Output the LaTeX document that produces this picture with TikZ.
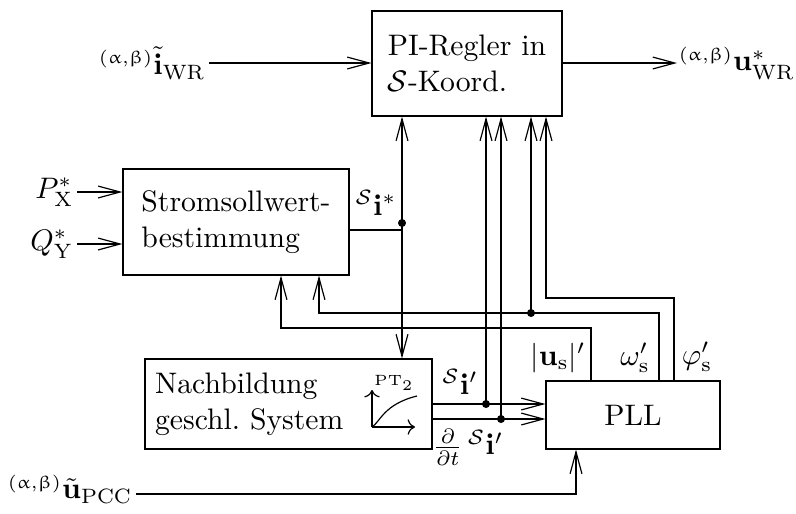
\documentclass[tikz,border=0pt]{standalone}
\usepackage{amsmath}
\usepackage[Euler]{upgreek}
\usetikzlibrary{arrows.meta}

\newcommand{\abkoord}{{}^{\mbox{\fontsize{6}{7}\selectfont$(\upalpha{,}\upbeta)$}}}

\begin{document}
\begin{tikzpicture}[x=0.337pt,y=-0.337pt,
    block/.style={draw,rectangle,inner sep=2pt,align=left},
    pfeil/.style={-{Straight Barb[length=7.4pt,width=4pt]}},
    punkt/.style={circle,fill,inner sep=0pt,minimum size=2.7pt}]

    \useasboundingbox (0,0) rectangle (796,513);

    % Blocks
    \node[block,minimum width=64pt,minimum height=35.4pt] (pi) at (467,63.5)
        {PI-Regler in\\$\mathcal{S}$-Koord.};
    \node[block,minimum width=76.2pt,minimum height=35.7pt] (strom) at (236,222)
        {Stromsollwert-\\bestimmung};
    \node[block,inner xsep=3.4pt,text width=89.9pt,minimum height=30.3pt] (nachb) at (288.5,404)
        {Nachbildung\\geschl.\ System};
    \node[block,minimum width=58.6pt,minimum height=22.9pt,align=center] (pll) at (633,415) {PLL};

    % PT2 icon
    \coordinate (pto) at (372,427);
    \draw[->] (pto) -- (372,390);
    \draw[->] (pto) -- (415,427);
    \draw (pto) .. controls (380,422) and (384,404) .. (417,396);
    \node[font=\tiny] at (394,383) {PT$_2$};

    % Inputs and outputs
    \node[anchor=east,inner sep=1pt] (iwr) at (209,63) {$\abkoord\tilde{\mathbf{i}}_{\mathrm{WR}}$};
    \draw[pfeil] (iwr.east) -- (iwr.east -| pi.west);
    \node[anchor=west,inner sep=0.5pt] (uwr) at (677,63) {$\abkoord\mathbf{u}^*_{\mathrm{WR}}$};
    \draw[pfeil] (pi.east |- uwr.west) -- (uwr.west);

    \node[anchor=east,inner sep=1pt] (px) at (77,192) {$P^*_{\mathrm{X}}$};
    \draw[pfeil] (px.east) -- (px.east -| strom.west);
    \node[anchor=east,inner sep=1pt] (qy) at (77,244) {$Q^*_{\mathrm{Y}}$};
    \draw[pfeil] (qy.east) -- (qy.east -| strom.west);

    \node[anchor=east,inner sep=1pt] (upcc) at (136,489) {$\abkoord\tilde{\mathbf{u}}_{\mathrm{PCC}}$};
    \draw[pfeil] (upcc.east |- 0,494) -| (pll.south -| 576,0);

    % Stromsollwert
    \coordinate (dsi) at (402,223);
    \draw (strom.east |- 0,230) -| (dsi);
    \draw[pfeil] (dsi) -- (dsi |- pi.south);
    \draw[pfeil] (dsi) -- (dsi |- nachb.north);
    \node[punkt] at (dsi) {};
    \node at (376,203) {${}^{\mathcal{S}}\mathbf{i}^*$};

    % Nachbildung -> PLL
    \coordinate (di) at (486,404);
    \coordinate (ddi) at (501,419);
    \draw[pfeil] (nachb.east |- di) -- (pll.west |- di);
    \draw[pfeil] (nachb.east |- ddi) -- (pll.west |- ddi);
    \draw[pfeil] (di) -- (di |- pi.south);
    \draw[pfeil] (ddi) -- (ddi |- pi.south);
    \node[punkt] at (di) {};
    \node[punkt] at (ddi) {};
    \node at (460,382) {${}^{\mathcal{S}}\mathbf{i}'$};
    \node at (468,447) {$\frac{\partial}{\partial t}\,{}^{\mathcal{S}}\mathbf{i}'$};

    % PLL outputs
    \draw[pfeil] (pll.north -| 591,0) |- (281,328) -- (281,328 |- strom.south);
    \coordinate (dw) at (531,313);
    \draw[pfeil] (pll.north -| 659,0) |- (319,313) -- (319,313 |- strom.south);
    \draw[pfeil] (dw) -- (dw |- pi.south);
    \node[punkt] at (dw) {};
    \draw[pfeil] (pll.north -| 674,0) |- (546,298) -- (546,298 |- pi.south);

    % Labels
    \node at (558,358) {$|\mathbf{u}_{\mathrm{s}}|'$};
    \node at (635,358) {$\omega'_{\mathrm{s}}$};
    \node at (697,357) {$\varphi'_{\mathrm{s}}$};

\end{tikzpicture}
\end{document}
